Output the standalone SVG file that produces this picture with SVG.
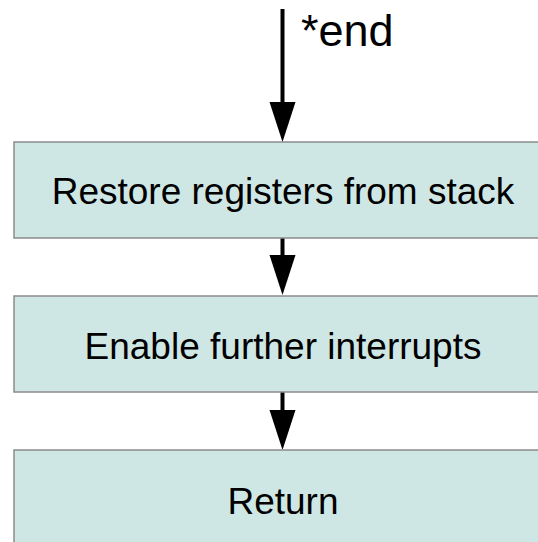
<svg xmlns="http://www.w3.org/2000/svg" width="538" height="542" viewBox="0 0 538 542">
  <defs>
    <style>
      .box { fill: #cfe7e4; stroke: #8c8c8c; stroke-width: 1.5; }
      .label { font-family: "Liberation Sans", Arial, sans-serif; font-size: 37px; fill: #000; text-anchor: middle; }
      .edge { stroke: #000; stroke-width: 4; fill: none; }
      .head { fill: #000; }
    </style>
  </defs>
  <rect width="538" height="542" fill="#fff"/>

  <g id="connectors">
    <g id="entry">
      <line class="edge" x1="282.5" y1="9" x2="282.5" y2="104"/>
      <polygon class="head" points="269.5,102 295.5,102 282.5,142"/>
      <text x="301" y="46" font-family="Liberation Sans, Arial, sans-serif" font-size="45">*end</text>
    </g>
    <g id="restore-to-enable">
      <line class="edge" x1="282.5" y1="238" x2="282.5" y2="257"/>
      <polygon class="head" points="269.5,255 295.5,255 282.5,295"/>
    </g>
    <g id="enable-to-return">
      <line class="edge" x1="282.5" y1="392" x2="282.5" y2="412"/>
      <polygon class="head" points="269.5,410 295.5,410 282.5,450"/>
    </g>
  </g>

  <g id="restore">
    <rect class="box" x="14" y="142" width="538" height="96"/>
    <text class="label" x="283" y="204">Restore registers from stack</text>
  </g>
  <g id="enable">
    <rect class="box" x="14" y="296" width="538" height="96"/>
    <text class="label" x="283" y="359">Enable further interrupts</text>
  </g>
  <g id="return">
    <rect class="box" x="14" y="450" width="538" height="96"/>
    <text class="label" x="283" y="514">Return</text>
  </g>
</svg>
